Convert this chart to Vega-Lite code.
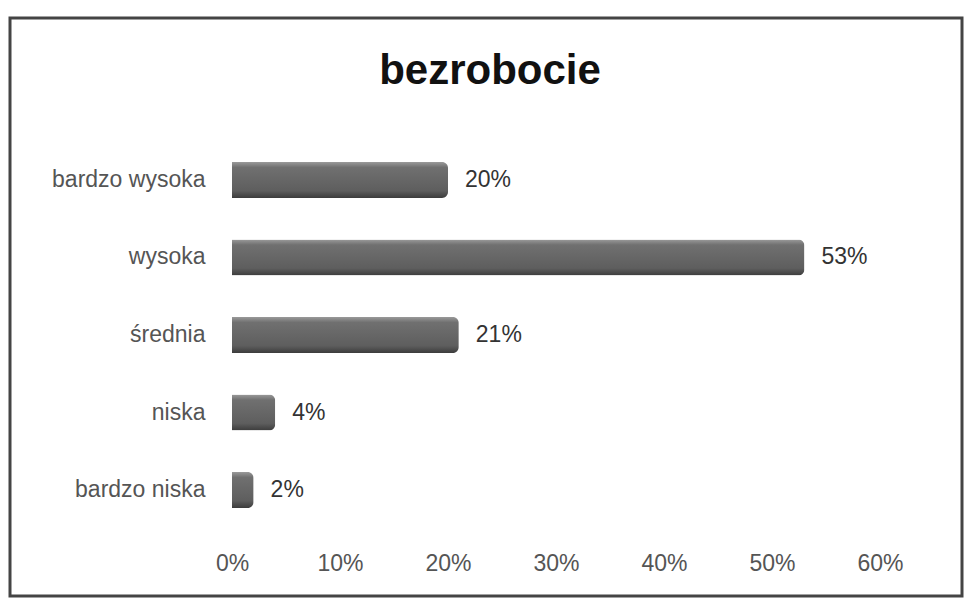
{
  "$schema": "https://vega.github.io/schema/vega-lite/v6.json",
  "autosize": {"type": "none"},
  "padding": {"left": 10, "top": 18, "right": 3, "bottom": 2},
  "width": 952,
  "height": 578,
  "background": "white",
  "title": {
    "text": "bezrobocie",
    "font": "Liberation Sans",
    "fontSize": 42,
    "fontWeight": "bold",
    "color": "#111",
    "anchor": "middle",
    "baseline": "alphabetic",
    "offset": -108,
    "dx": 4
  },
  "config": {
    "view": {"stroke": "#444", "strokeWidth": 3},
    "axis": {"labelFont": "Liberation Sans", "labelFontSize": 23, "labelColor": "#555", "grid": false, "ticks": false, "domain": false}
  },
  "data": {
    "values": [
      {"kategoria": "bardzo wysoka", "udzial": 0.20, "etykieta": "20%"},
      {"kategoria": "wysoka", "udzial": 0.53, "etykieta": "53%"},
      {"kategoria": "średnia", "udzial": 0.21, "etykieta": "21%"},
      {"kategoria": "niska", "udzial": 0.04, "etykieta": "4%"},
      {"kategoria": "bardzo niska", "udzial": 0.02, "etykieta": "2%"}
    ]
  },
  "encoding": {
    "y": {
      "field": "kategoria",
      "type": "nominal",
      "sort": null,
      "title": null,
      "scale": {"range": [144, 490], "paddingInner": 0.5355, "paddingOuter": 0},
      "axis": {"offset": -222, "labelPadding": 27}
    },
    "x": {
      "field": "udzial",
      "type": "quantitative",
      "title": null,
      "scale": {"domain": [-0.20556, 0.67593], "zero": false, "nice": false},
      "axis": {"values": [0, 0.1, 0.2, 0.3, 0.4, 0.5, 0.6], "format": ".0%", "offset": -44, "labelPadding": 0, "labelBaseline": "top"}
    }
  },
  "layer": [
    {
      "mark": {
        "type": "bar",
        "x2Offset": 9,
        "cornerRadiusEnd": 6,
        "color": {
          "gradient": "linear",
          "x1": 0, "y1": 0, "x2": 0, "y2": 1,
          "stops": [
            {"offset": 0, "color": "#9a9a9a"},
            {"offset": 0.15, "color": "#707070"},
            {"offset": 0.8, "color": "#5e5e5e"},
            {"offset": 1, "color": "#3c3c3c"}
          ]
        }
      }
    },
    {
      "mark": {"type": "text", "align": "left", "baseline": "middle", "dx": 17, "font": "Liberation Sans", "fontSize": 23, "color": "#333"},
      "encoding": {"text": {"field": "etykieta"}}
    }
  ]
}
